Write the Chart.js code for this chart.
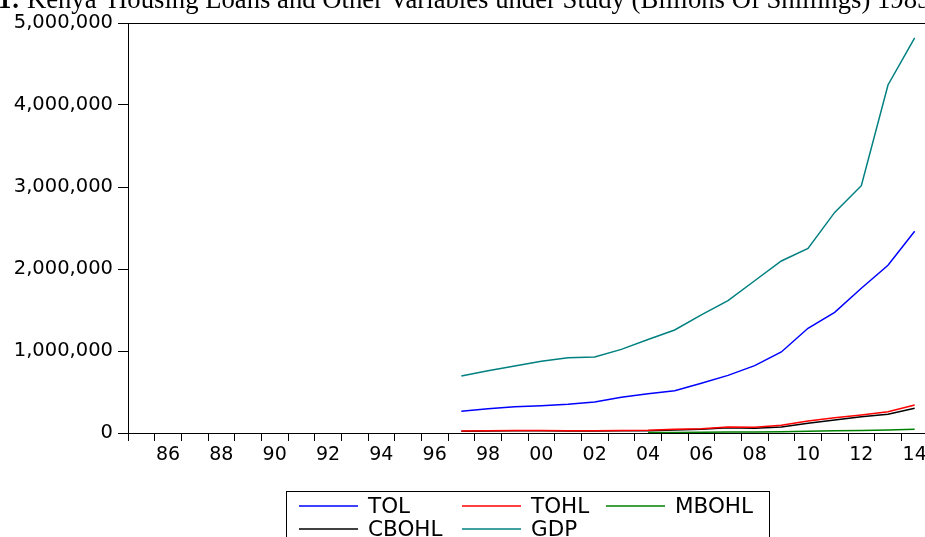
<!DOCTYPE html>
<html>
<head>
<meta charset="utf-8">
<script src="https://cdn.jsdelivr.net/npm/chart.js@4/dist/chart.umd.min.js"></script>
<style>
html, body { margin: 0; padding: 0; background: #fff; overflow: hidden; width: 925px; height: 537px; }
#titulo { position: absolute; left: -2px; top: -16px; font-family: "Liberation Serif", "Times New Roman", serif; font-size: 26.7px; white-space: nowrap; color: #000; }
#caixa { position: absolute; left: 0; top: 0; width: 932px; height: 537px; }
</style>
</head>
<body>
<div id="caixa"><canvas id="grafico" width="932" height="537"></canvas></div>
<div id="titulo"><b>1:</b> Kenya' Housing Loans and Other Variables under Study (Billions Of Shillings) 1985-2014</div>
<script>
const anos = [1985, 1986, 1987, 1988, 1989, 1990, 1991, 1992, 1993, 1994, 1995, 1996, 1997, 1998, 1999,
              2000, 2001, 2002, 2003, 2004, 2005, 2006, 2007, 2008, 2009, 2010, 2011, 2012, 2013, 2014];

// 1985-1996 sem dados
const tol = [null, null, null, null, null, null, null, null, null, null, null, null,
             264000, 297000, 321000, 333000, 350000, 378000, 435000, 480000, 516000,
             606000, 703000, 821000, 988000, 1277000, 1472000, 1765000, 2045000, 2460000];
const tohl = [null, null, null, null, null, null, null, null, null, null, null, null,
              25000, 28000, 30000, 29000, 28000, 28000, 29000, 33000, 45000,
              53000, 73000, 69000, 94000, 146000, 187000, 220000, 260000, 341000];
const mbohl = [null, null, null, null, null, null, null, null, null, null, null, null,
               null, null, null, null, null, null, null, 5000, 7000,
               9000, 11000, 13000, 16000, 21000, 27000, 32000, 37000, 45000];
const cbohl = [null, null, null, null, null, null, null, null, null, null, null, null,
               22000, 25000, 27000, 26000, 25000, 25000, 26000, 28000, 37000,
               45000, 65000, 57000, 73000, 118000, 159000, 199000, 228000, 301000];
const gdp = [null, null, null, null, null, null, null, null, null, null, null, null,
             695000, 760000, 817000, 874000, 918000, 927000, 1020000, 1140000, 1256000,
             1440000, 1614000, 1857000, 2098000, 2252000, 2690000, 3016000, 4244000, 4820000];

const yTicks = [0, 1000000, 2000000, 3000000, 4000000, 5000000];

const fonte = 'DejaVu Sans';

// moldura do grafico
const moldura = {
    id: 'moldura',
    afterDraw(chart) {
        const { ctx, chartArea: a } = chart;
        ctx.save();
        ctx.strokeStyle = '#000';
        ctx.lineWidth = 1;
        ctx.strokeRect(Math.round(a.left) + 0.5, Math.round(a.top) + 0.5, a.right - a.left, a.bottom - a.top);
        ctx.restore();
    }
};

// legenda em caixa, 3 colunas
const legendaCaixa = {
    id: 'legendaCaixa',
    afterDraw(chart) {
        const ctx = chart.ctx;
        const colX = [299, 462, 606];
        const linY = [506, 529];
        ctx.save();
        ctx.strokeStyle = '#000';
        ctx.lineWidth = 1;
        ctx.strokeRect(286.5, 491.5, 483, 60);
        ctx.font = '21.5px "' + fonte + '"';
        ctx.textBaseline = 'alphabetic';
        chart.data.datasets.forEach((ds, i) => {
            const x = colX[i % 3];
            const y = linY[Math.floor(i / 3)];
            ctx.strokeStyle = ds.borderColor;
            ctx.lineWidth = 1.5;
            ctx.beginPath();
            ctx.moveTo(x, y);
            ctx.lineTo(x + 59, y);
            ctx.stroke();
            ctx.fillStyle = '#000';
            ctx.fillText(ds.label, x + 69, y + 6.5);
        });
        ctx.restore();
    }
};

const serie = (label, data, cor) => ({
    label: label,
    data: data,
    borderColor: cor,
    backgroundColor: cor,
    borderWidth: 1.5,
    pointRadius: 0,
    tension: 0,
    fill: false
});

new Chart(document.getElementById('grafico').getContext('2d'), {
    type: 'line',
    data: {
        labels: anos,
        datasets: [
            serie('TOL', tol, '#0000ff'),
            serie('TOHL', tohl, '#ff0000'),
            serie('MBOHL', mbohl, '#008000'),
            serie('CBOHL', cbohl, '#000000'),
            serie('GDP', gdp, '#008080')
        ]
    },
    options: {
        responsive: false,
        animation: false,
        layout: { padding: { top: 23, right: 4, left: 0, bottom: 0 } },
        plugins: {
            legend: { display: false },
            tooltip: { enabled: false },
            title: { display: false }
        },
        scales: {
            x: {
                offset: true,
                grid: { offset: true, drawOnChartArea: false, tickLength: 8, color: '#000', tickColor: '#000' },
                border: { color: '#000', width: 1 },
                ticks: {
                    autoSkip: false,
                    maxRotation: 0,
                    minRotation: 0,
                    padding: 3,
                    color: '#000',
                    font: { family: fonte, size: 19 },
                    callback: function (v) {
                        const ano = this.getLabelForValue(v);
                        return ano % 2 === 0 ? String(ano).slice(2) : '';
                    }
                },
                afterFit: s => { s.height = 104; s.paddingLeft = 0; s.paddingRight = 0; }
            },
            y: {
                min: 0,
                max: 5000000,
                afterBuildTicks: s => { s.ticks = yTicks.map(v => ({ value: v })); },
                grid: { drawOnChartArea: false, tickLength: 10, color: '#000', tickColor: '#000' },
                border: { color: '#000', width: 1 },
                ticks: {
                    padding: 5,
                    color: '#000',
                    font: { family: fonte, size: 19.5 },
                    callback: v => v.toLocaleString('en-US')
                },
                afterFit: s => { s.width = 128; s.paddingTop = 0; s.paddingBottom = 0; }
            }
        }
    },
    plugins: [moldura, legendaCaixa]
});
</script>
</body>
</html>
